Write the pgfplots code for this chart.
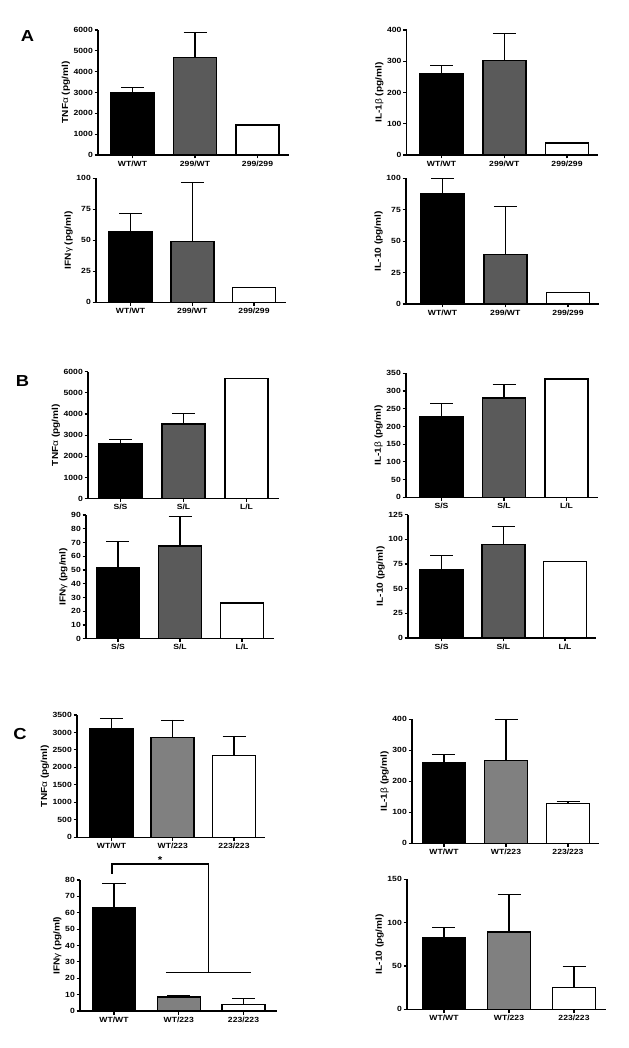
\documentclass[border=0pt]{standalone}
\usepackage{fontspec}
\setmainfont{Liberation Sans}[FakeStretch=1.15]
\usepackage{pgfplots}
\pgfplotsset{compat=1.18}
\definecolor{dgray}{HTML}{5A5A5A}
\definecolor{mgray}{HTML}{808080}
\pgfplotsset{
 panel/.style={
  scale only axis, anchor=south west,
  axis x line*=bottom, axis y line*=left,
  axis line style={line width=1.5bp, black},
  tick style={line width=1.1bp, black},
  tick align=outside,
  major tick length=3.5bp,
  xtick={0,1,2},
  ymin=0,
  scaled y ticks=false,
  /pgf/number format/1000 sep={},
  /pgf/number format/assume math mode=true,
  yticklabel style={font=\bfseries\fontsize{7.5}{8}\selectfont, inner sep=1.5bp},
  xticklabel style={font=\bfseries\fontsize{7.5}{8}\selectfont, inner sep=2bp},
  ylabel style={font=\bfseries\fontsize{8.8}{9}\selectfont, inner sep=2bp},
  bar width=43bp,
  clip=false,
 },
 b/.style={ybar, bar shift=0pt, draw=black, line width=1.5bp, fill=#1,
   error bars/.cd, y dir=plus, y explicit,
   error bar style={line width=1.1bp, black},
   error mark options={rotate=90, line width=0.9bp, mark size=11.5bp, black}},
}
\newcommand\gr[1]{{\mdseries #1}}
\begin{document}
\begin{tikzpicture}
\useasboundingbox (0,0) rectangle (629bp,1048bp);
% Panel letters
\node[font=\bfseries\fontsize{16}{18}\selectfont] at (27.5bp,1012bp) {A};
\node[font=\bfseries\fontsize{16}{18}\selectfont] at (22.5bp,667bp) {B};
\node[font=\bfseries\fontsize{16}{18}\selectfont] at (20bp,314bp) {C};

% ---------- A ----------
\begin{axis}[panel, at={(98bp,893bp)}, width=191bp, height=125bp,
  xmin=-0.552, xmax=2.504, ymax=6000, ytick={0,1000,...,6000},
  xticklabels={WT/WT,299/WT,299/299}, ylabel={TNF\gr{α} (pg/ml)}]
\addplot[b=black] coordinates {(0,3000) +- (0,250)};
\addplot[b=dgray] coordinates {(1,4690) +- (0,1180)};
\addplot[b=white] coordinates {(2,1450)};
\end{axis}
\begin{axis}[panel, at={(406.7bp,893bp)}, width=191.3bp, height=125bp,
  xmin=-0.555, xmax=2.494, ymax=400, ytick={0,100,...,400},
  xticklabels={WT/WT,299/WT,299/299}, ylabel={IL-1\gr{β} (pg/ml)}]
\addplot[b=black] coordinates {(0,259) +- (0,27)};
\addplot[b=dgray] coordinates {(1,302) +- (0,88)};
\addplot[b=white] coordinates {(2,39)};
\end{axis}
\begin{axis}[panel, at={(96bp,745.7bp)}, width=190bp, height=124bp,
  xmin=-0.559, xmax=2.518, ymax=100, ytick={0,25,50,75,100},
  xticklabels={WT/WT,299/WT,299/299}, ylabel={IFN\gr{γ} (pg/ml)}]
\addplot[b=black] coordinates {(0,57) +- (0,15)};
\addplot[b=dgray] coordinates {(1,49) +- (0,48)};
\addplot[b=white] coordinates {(2,12)};
\end{axis}
\begin{axis}[panel, at={(406bp,744bp)}, width=193bp, height=125.7bp,
  xmin=-0.582, xmax=2.494, ymax=100, ytick={0,25,50,75,100},
  xticklabels={WT/WT,299/WT,299/299}, ylabel={IL-10 (pg/ml)}]
\addplot[b=black] coordinates {(0,88) +- (0,11.5)};
\addplot[b=dgray] coordinates {(1,39.5) +- (0,38)};
\addplot[b=white] coordinates {(2,9.3)};
\end{axis}

% ---------- B ----------
\begin{axis}[panel, at={(88bp,549.3bp)}, width=191bp, height=127bp,
  xmin=-0.516, xmax=2.516, ymax=6000, ytick={0,1000,...,6000},
  xticklabels={S/S,S/L,L/L}, ylabel={TNF\gr{α} (pg/ml)}]
\addplot[b=black] coordinates {(0,2600) +- (0,220)};
\addplot[b=dgray] coordinates {(1,3530) +- (0,490)};
\addplot[b=white] coordinates {(2,5670)};
\end{axis}
\begin{axis}[panel, at={(406bp,550.7bp)}, width=192bp, height=124bp,
  xmin=-0.568, xmax=2.504, ymax=350, ytick={0,50,...,350},
  xticklabels={S/S,S/L,L/L}, ylabel={IL-1\gr{β} (pg/ml)}]
\addplot[b=black] coordinates {(0,228) +- (0,37)};
\addplot[b=dgray] coordinates {(1,280) +- (0,39)};
\addplot[b=white] coordinates {(2,334)};
\end{axis}
\begin{axis}[panel, at={(86bp,409.3bp)}, width=188bp, height=123.7bp,
  xmin=-0.516, xmax=2.516, ymax=90, ytick={0,10,...,90},
  xticklabels={S/S,S/L,L/L}, ylabel={IFN\gr{γ} (pg/ml)}]
\addplot[b=black] coordinates {(0,51.7) +- (0,19.4)};
\addplot[b=dgray] coordinates {(1,67.5) +- (0,21.5)};
\addplot[b=white] coordinates {(2,26)};
\end{axis}
\begin{axis}[panel, at={(408bp,410bp)}, width=188bp, height=123.3bp,
  xmin=-0.545, xmax=2.502, ymax=125, ytick={0,25,...,125},
  xticklabels={S/S,S/L,L/L}, ylabel={IL-10 (pg/ml)}]
\addplot[b=black] coordinates {(0,69.6) +- (0,13.8)};
\addplot[b=dgray] coordinates {(1,94.9) +- (0,18.6)};
\addplot[b=white] coordinates {(2,77.7)};
\end{axis}

% ---------- C ----------
\begin{axis}[panel, at={(77bp,210.7bp)}, width=188bp, height=122.3bp,
  xmin=-0.563, xmax=2.506, ymax=3500, ytick={0,500,...,3500},
  xticklabels={WT/WT,WT/223,223/223}, ylabel={TNF\gr{α} (pg/ml)}]
\addplot[b=black] coordinates {(0,3110) +- (0,277)};
\addplot[b=mgray] coordinates {(1,2853) +- (0,505)};
\addplot[b=white] coordinates {(2,2338) +- (0,562)};
\end{axis}
\begin{axis}[panel, at={(412bp,204.7bp)}, width=187bp, height=124bp,
  xmin=-0.516, xmax=2.5, ymax=400, ytick={0,100,...,400},
  xticklabels={WT/WT,WT/223,223/223}, ylabel={IL-1\gr{β} (pg/ml)}]
\addplot[b=black] coordinates {(0,260) +- (0,27)};
\addplot[b=mgray] coordinates {(1,267) +- (0,132)};
\addplot[b=white] coordinates {(2,128) +- (0,7.5)};
\end{axis}
\begin{axis}[panel, at={(80bp,37bp)}, width=197bp, height=131bp,
  xmin=-0.525, xmax=2.517, ymax=80, ytick={0,10,...,80},
  xticklabels={WT/WT,WT/223,223/223}, ylabel={IFN\gr{γ} (pg/ml)}]
\addplot[b=black] coordinates {(0,62.9) +- (0,14.9)};
\addplot[b=mgray] coordinates {(1,8.4) +- (0,1.2)};
\addplot[b=white] coordinates {(2,4.1) +- (0,3.8)};
\draw[line width=1.6bp] (axis cs:-0.03,83.7) -- (axis cs:-0.03,89.6) -- (axis cs:1.46,89.6) -- (axis cs:1.46,23.6);
\draw[line width=1.6bp] (axis cs:0.8,23.6) -- (axis cs:2.11,23.6);
\node[anchor=south, font=\bfseries\fontsize{10}{11}\selectfont, inner sep=1bp] at (axis cs:0.71,89.6) {*};
\end{axis}
\begin{axis}[panel, at={(407bp,38.7bp)}, width=199bp, height=130bp,
  xmin=-0.569, xmax=2.492, ymax=150, ytick={0,50,100,150},
  xticklabels={WT/WT,WT/223,223/223}, ylabel={IL-10 (pg/ml)}]
\addplot[b=black] coordinates {(0,83) +- (0,12)};
\addplot[b=mgray] coordinates {(1,89) +- (0,44)};
\addplot[b=white] coordinates {(2,25) +- (0,24)};
\end{axis}
\end{tikzpicture}
\end{document}
